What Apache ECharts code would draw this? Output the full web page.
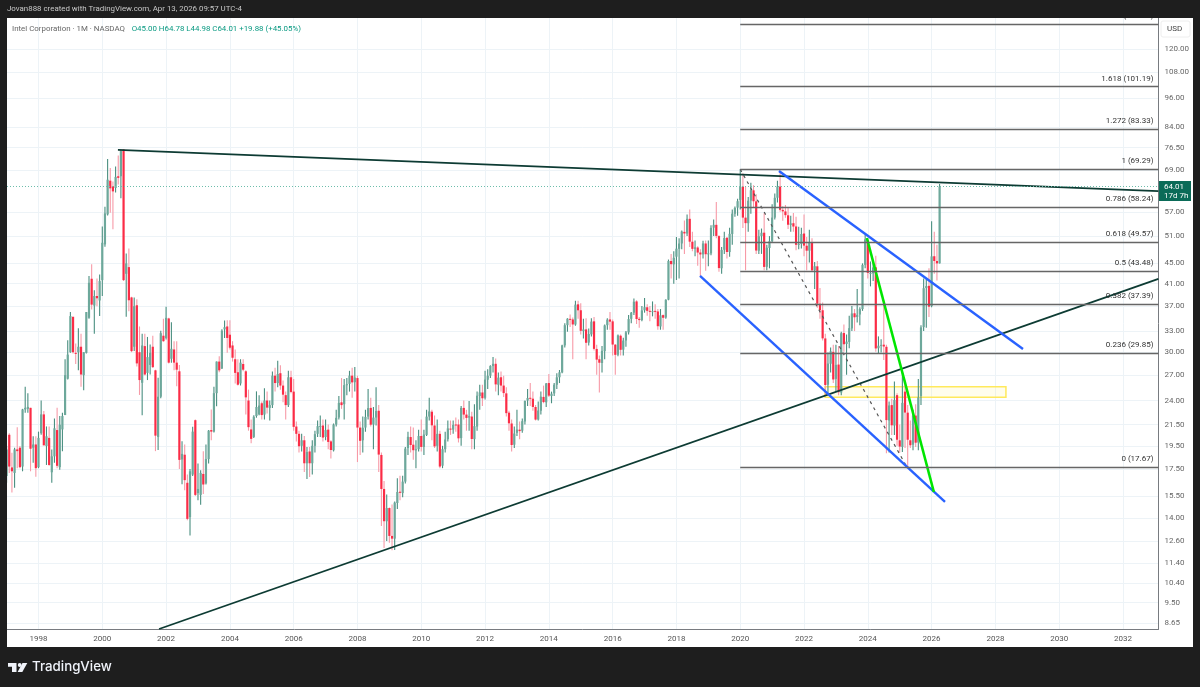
<!DOCTYPE html>
<html>
<head>
<meta charset="utf-8">
<style>html,body{margin:0;padding:0;background:#1e1e1e}#main{width:1200px;height:687px}</style>
<script src="https://cdn.jsdelivr.net/npm/echarts@6/dist/echarts.min.js"></script>
</head>
<body>
<div id="main"></div>
<script>
// monthly bars, each row is open, close, low, high. first row is Jan 1997
let candles1997=[[16.97,19.18,16.46,19.48],[20.51,17.73,17.22,20.66],[17.66,17.35,15.75,18.88],[17.22,19.18,16.08,19.33],[19.18,19.03,17.6,21.24],[19.33,17.68,17.6,19.48],[17.73,23.04,17.35,23.1],[23.04,23.21,22.7,25.55],[23.1,23.31,22.7,24.82],[23.21,19.24,17.35,23.21],[19.33,19.62,18.05,20.37],[19.62,17.6,16.92,20.37]]
let candles1998=[[17.68,20.22,17.6,20.81],[20.66,22.52,20.51,24.0],[22.52,19.54,19.54,22.88],[19.48,20.37,17.86,21.31],[20.22,17.86,17.79,21.31],[17.27,18.58,16.46,19.18],[18.58,21.13,18.05,22.11],[20.96,17.79,17.6,23.21],[17.68,21.48,17.48,22.35],[21.02,22.35,19.03,22.7],[22.45,26.96,22.45,29.0],[26.52,29.62,26.44,31.65]]
let candles1999=[[29.95,35.34,29.86,36.0],[35.23,29.95,29.77,35.23],[29.86,29.72,28.37,31.18],[29.95,30.71,27.56,33.42],[30.71,27.04,25.55,32.59],[26.96,29.95,25.15,29.95],[29.86,36.0,29.77,36.0],[35.06,41.17,34.9,42.45],[41.94,37.25,36.43,44.8],[37.09,38.75,32.59,39.77],[38.75,38.35,36.98,42.0],[37.96,41.49,35.34,42.77]]
let candles2000=[[41.68,49.46,38.75,53.3],[49.09,56.59,48.57,58.32],[56.33,66.04,56.07,72.59],[65.75,63.48,56.76,69.67],[64.1,62.6,52.6,65.5],[63.58,66.9,62.3,70.17],[67.1,66.6,64.6,73.76],[67.1,75.29,60.65,75.88],[75.88,41.68,41.49,75.88],[42.9,45,35.23,47.1],[44.24,38,36.15,48.2],[38.5,30.1,29.95,38.62]]
let candles2001=[[30.71,36.98,30.1,38.5],[37.14,28.45,28.05,38.18],[29.95,26.36,24.62,33.7],[26.03,30.89,22.42,32.59],[30.8,27.04,26.92,32.59],[27.24,29.29,26.36,32.12],[28.25,29.86,27.04,31.03],[30.71,27.97,27.85,32.31],[27.56,20.43,19.03,27.64],[20.31,24.42,19.12,26.64],[24.42,32.68,24.25,33.06],[32.3,31.5,31.41,34.9]]
let candles2002=[[31.97,35.06,31.74,36.87],[34.96,28.55,28.45,35.06],[29.06,30.42,28.55,34.35],[30.33,28.55,27.56,31.5],[28.55,27.64,25.63,31.5],[27.44,18.28,17.53,28.25],[18.32,18.79,16.34,19.92],[18.72,16.66,15.9,19.62],[16.46,13.95,13.86,17.09],[14.06,17.35,12.92,17.53],[17.09,20.81,16.97,21.27],[21.93,15.57,15.49,22.0]]
let candles2003=[[15.7,16.0,15.2,17.99],[15.57,17.22,14.89,17.43],[17.14,16.33,15.64,19.03],[16.41,18.35,16.33,19.62],[18.35,20.9,17.99,20.96],[20.96,20.81,20.0,23.04],[20.81,24.82,20.72,25.55],[24.82,28.69,23.38,28.69],[28.69,27.56,27.32,29.39],[27.8,33.06,27.72,33.26],[33.26,33.59,31.97,34.62],[33.7,31.97,29.86,34.68]]
let candles2004=[[32.45,30.57,30.33,34.68],[30.89,29.2,28.69,31.5],[29.0,27.24,25.95,30.33],[27.32,25.8,25.7,29.0],[25.95,28.55,25.71,29.0],[28.37,27.64,27.44,29.0],[27.44,24.35,22.52,27.56],[24.0,21.24,20.9,25.23],[21.02,20.13,19.72,22.0],[20.31,22.28,20.22,22.42],[22.35,23.3,22.18,25.03],[22.52,23.45,22.42,24.6]]
let candles2005=[[23.7,22.45,22.0,23.9],[22.5,24.0,22.0,25.4],[24.0,23.23,22.6,25.0],[23.2,23.5,21.9,24.0],[23.5,26.9,23.2,27.4],[26.9,26.0,25.0,27.9],[26.0,27.1,25.5,28.8],[27.2,25.7,25.2,28.2],[25.7,24.65,23.8,26.3],[24.6,23.5,22.0,25.0],[23.5,26.7,23.3,27.5],[26.7,24.96,24.8,27.5]]
let candles2006=[[25.0,21.27,20.9,26.5],[21.3,20.6,19.9,21.8],[20.6,19.46,18.9,20.9],[19.5,20.0,19.0,20.6],[20.0,18.0,17.3,20.4],[18.0,18.95,16.75,19.4],[19.0,18.0,16.9,19.4],[18.0,19.5,17.1,20.0],[19.5,20.57,18.9,20.9],[20.6,21.34,20.3,21.9],[21.3,21.35,20.3,22.4],[21.4,20.25,19.9,22.0]]
let candles2007=[[20.3,20.96,20.0,22.0],[21.0,19.85,19.2,21.5],[19.9,19.13,18.4,20.0],[19.1,21.5,19.0,21.6],[21.5,22.17,21.3,23.0],[22.2,23.74,22.0,24.5],[23.8,23.5,23.1,26.6],[23.6,25.75,22.0,26.5],[25.8,25.86,24.6,26.6],[25.9,26.9,25.0,27.5],[26.9,26.08,24.3,27.9],[26.1,26.66,25.0,28.0]]
let candles2008=[[26.6,21.2,18.1,26.9],[21.2,19.95,18.7,21.8],[20.0,21.18,18.9,22.3],[21.2,22.26,20.8,23.0],[22.3,23.18,22.0,25.3],[23.2,21.48,21.3,24.3],[21.5,22.19,19.2,23.3],[22.2,22.87,21.4,25.5],[22.9,18.73,17.3,23.5],[18.7,16.0,13.5,18.9],[16.0,13.8,12.2,16.6],[13.8,14.66,12.6,15.6]]
let candles2009=[[14.66,12.9,12.5,14.7],[12.9,12.74,12.08,14.9],[12.74,15.03,12.1,15.1],[15.0,15.78,14.6,16.8],[15.8,15.72,15.2,17.0],[15.7,16.55,15.4,17.0],[16.55,19.25,16.4,19.4],[19.3,20.32,18.7,20.8],[20.3,19.57,18.9,21.3],[19.6,19.11,18.3,21.2],[19.1,19.19,17.6,20.0],[19.2,20.4,19.0,21.0]]
let candles2010=[[20.4,19.4,19.0,22.0],[19.4,20.53,18.7,21.0],[20.5,22.29,20.4,23.0],[22.3,22.83,21.9,24.3],[22.8,21.42,20.0,23.0],[21.4,19.45,19.3,22.4],[19.5,20.6,19.0,22.0],[20.6,17.73,17.6,20.9],[17.8,19.2,17.6,19.5],[19.2,20.07,18.9,20.8],[20.1,21.12,19.9,21.9],[21.1,21.03,20.5,21.9]]
let candles2011=[[21.0,21.46,20.6,21.9],[21.5,21.47,20.8,22.2],[21.5,20.18,19.8,22.0],[20.2,23.2,19.5,23.4],[23.2,22.5,22.0,24.0],[22.5,22.16,20.9,23.0],[22.2,22.33,20.9,23.96],[22.3,20.12,19.2,22.8],[20.1,21.34,19.2,23.6],[21.3,24.54,20.9,25.0],[24.5,24.91,23.0,25.8],[24.9,24.25,23.4,25.8]]
let candles2012=[[24.3,26.42,24.1,27.5],[26.4,26.88,25.3,27.7],[26.9,28.12,26.6,28.2],[28.1,28.4,27.3,29.3],[28.4,25.84,25.0,29.1],[25.8,26.65,24.6,27.3],[26.7,25.7,25.0,27.4],[25.7,24.83,24.4,26.9],[24.8,22.65,22.3,25.5],[22.7,21.62,20.9,22.9],[21.6,19.57,19.0,22.0],[19.6,20.63,19.3,21.3]]
let candles2013=[[20.7,21.01,20.4,23.0],[21.0,20.86,20.1,21.8],[20.9,21.83,20.7,22.1],[21.8,23.95,21.5,24.0],[24.0,24.28,23.4,25.3],[24.3,24.23,23.4,26.0],[24.2,23.3,22.9,25.0],[23.3,21.99,21.9,23.5],[22.0,22.92,21.9,23.9],[22.9,24.43,22.5,25.0],[24.4,23.83,23.7,25.7],[23.8,25.95,23.3,26.0]]
let candles2014=[[26.0,24.54,24.4,27.1],[24.5,24.76,23.7,25.0],[24.8,25.81,24.5,26.0],[25.8,26.69,25.3,27.2],[26.7,27.32,26.0,27.6],[27.3,30.9,27.2,31.0],[30.9,33.89,30.6,34.2],[33.9,34.92,32.9,35.0],[34.9,34.82,33.6,35.6],[34.8,34.01,29.0,35.1],[34.0,37.25,33.8,37.9],[37.3,36.29,34.9,37.9]]
let candles2015=[[36.3,33.04,32.5,37.5],[33.0,33.25,31.9,34.9],[33.25,31.27,29.0,35.0],[31.3,32.55,30.9,33.4],[32.5,34.46,32.2,35.0],[34.5,30.41,30.2,35.2],[30.4,28.95,27.0,31.0],[29.0,28.54,24.9,29.5],[28.5,30.14,27.3,30.8],[30.1,33.86,29.0,34.0],[33.9,34.77,33.2,35.0],[34.8,34.45,33.2,36.0]]
let candles2016=[[34.5,31.02,29.5,34.8],[31.0,29.59,27.0,31.1],[29.6,32.35,29.4,32.5],[32.3,30.28,29.5,32.5],[30.3,31.59,29.5,32.0],[31.6,32.8,30.7,33.0],[32.8,34.86,32.5,35.5],[34.9,35.89,34.2,36.0],[35.9,37.75,35.5,38.3],[37.8,34.87,34.1,38.0],[34.9,34.7,33.5,35.2],[34.7,36.27,34.5,37.0]]
let candles2017=[[36.3,36.82,35.9,38.4],[36.8,36.2,35.4,37.3],[36.2,36.07,34.5,37.0],[36.1,36.15,35.3,37.8],[36.2,36.11,34.9,37.3],[36.1,33.74,33.2,36.5],[33.7,35.47,33.2,36.5],[35.5,35.07,33.2,35.6],[35.1,38.08,34.9,38.2],[38.1,45.49,38.0,45.8],[45.5,44.84,42.0,47.0],[44.8,46.16,41.0,47.6]]
let candles2018=[[46.4,48.14,41.7,50.8],[48.1,49.29,42.0,50.5],[49.3,52.08,48.0,52.3],[52.0,51.62,47.0,54.8],[51.6,55.2,51.0,56.3],[55.2,49.71,48.5,57.6],[49.7,48.1,47.6,52.0],[48.1,48.43,46.5,50.0],[48.4,47.29,44.5,48.7],[47.3,46.88,42.4,48.0],[46.9,49.31,46.0,49.9],[49.3,46.93,43.5,50.0]]
let candles2019=[[47.1,47.12,44.4,50.0],[47.1,52.95,46.7,53.6],[53.0,53.7,51.0,55.0],[53.7,51.04,50.5,59.6],[51.0,44.04,43.3,51.2],[44.0,47.87,42.9,48.5],[47.9,50.55,47.0,52.0],[50.6,47.41,46.0,50.8],[47.4,51.53,46.4,53.0],[51.5,56.53,49.0,57.6],[56.5,58.05,55.7,58.4],[58.1,59.85,56.0,60.5]]
let candles2020=[[60.2,63.93,57.6,69.29],[64.0,55.51,52.9,68.0],[55.5,54.12,43.63,64.0],[54.1,59.98,52.0,61.0],[60.0,62.92,56.5,65.1],[62.9,59.83,58.0,64.4],[59.8,47.73,47.0,61.8],[47.7,50.95,47.0,52.5],[51.0,51.78,47.0,52.8],[51.8,44.28,43.6,56.6],[44.3,48.35,43.6,49.0],[48.3,49.82,44.0,51.0]]
let candles2021=[[49.8,55.51,49.4,59.0],[55.5,60.78,55.0,62.0],[60.8,64.0,59.5,65.7],[64.0,57.53,57.0,68.49],[57.5,57.12,54.7,58.5],[57.1,56.14,55.5,58.8],[56.1,53.72,52.7,58.0],[53.7,54.06,52.0,56.0],[54.1,53.28,52.0,56.7],[53.3,49.0,47.8,55.7],[49.0,49.2,48.0,53.2],[49.2,51.5,48.2,53.0]]
let candles2022=[[51.6,48.82,46.5,56.3],[48.8,47.7,43.6,50.8],[47.7,49.56,45.2,52.5],[49.6,43.59,43.3,50.5],[43.6,44.42,40.0,45.3],[44.4,37.41,36.7,45.5],[37.4,36.31,34.9,40.2],[36.3,31.91,31.6,37.6],[31.9,25.77,24.6,32.6],[25.8,28.43,24.6,29.9],[28.4,30.07,27.3,30.6],[30.0,26.43,26.0,31.0]]
let candles2023=[[26.5,28.26,25.0,31.0],[28.3,24.93,24.6,30.8],[24.9,32.67,24.6,32.9],[32.7,31.06,30.0,34.0],[31.1,31.44,27.0,32.5],[31.4,33.44,30.5,35.4],[33.4,35.77,33.0,37.0],[35.8,35.15,33.0,36.5],[35.2,35.55,34.3,40.0],[35.6,36.5,33.9,36.8],[36.5,44.7,36.2,45.0],[44.7,50.25,44.0,51.28]]
let candles2024=[[50.0,43.08,42.0,50.5],[43.0,43.05,40.5,45.4],[43.0,44.17,41.5,45.4],[44.2,30.47,30.0,46.6],[30.5,30.85,29.7,32.2],[30.9,30.97,29.9,31.8],[31.0,30.74,28.9,37.2],[30.7,21.94,18.84,31.0],[21.9,23.46,18.9,23.9],[23.5,21.42,20.5,24.2],[21.4,24.05,20.5,26.2],[24.6,20.05,19.5,24.8]]
let candles2025=[[20.0,19.43,18.9,21.5],[19.4,23.74,18.95,27.55],[25.0,22.71,19.3,26.4],[22.7,20.05,17.67,23.5],[20.0,19.55,19.3,21.9],[19.6,22.4,19.1,23.0],[22.4,19.78,19.4,23.6],[19.8,24.35,19.1,26.5],[24.5,33.55,23.5,33.9],[33.6,40.16,33.0,42.0],[40.2,40.56,33.5,42.0],[40.6,36.9,35.2,44.0]]
let candles2026=[[37.0,46.47,36.8,54.6],[46.5,45.5,42.9,52.0],[45.5,45.0,41.6,49.0],[45.0,64.01,44.98,64.78]]

// axis labels
let priceTicks=[120,108,96,84,76.5,69,57,51,45,41,37,33,30,27,24,21.5,19.5,17.5,15.5,14,12.6,11.4,10.4,9.5,8.65]
let yearTicks=[1998,2000,2002,2004,2006,2008,2010,2012,2014,2016,2018,2020,2022,2024,2026,2028,2030,2032]

// fib retracement
let fibLevels=['0','0.236','0.382','0.5','0.618','0.786','1','1.272','1.618','2.272']
let fibPrices=[17.67,29.85,37.39,43.48,49.57,58.24,69.29,83.33,101.19,134.95]

// drawings, [year, price]
let resistanceLine=[[2000.49,75.7],[2033.11,62.7]]
let supportLine=[[2001.78,8.42],[2033.11,41.9]]
let channelTop=[[2021.215,68.75],[2028.865,30.4]]
let channelBottom=[[2018.74,42.48],[2026.42,15.08]]
let greenLine=[[2023.97,50.56],[2026.07,15.78]]
let fibDiagonal=[[2020,69.29],[2025.23,17.67]]
let yellowBox=[[2022.66,25.57],[2028.33,24.36]]
let lastPrice=64.01
let xMin=1997.0125
let xMax=2033.113

let allCandles=[].concat(candles1997,candles1998,candles1999,candles2000,candles2001,candles2002,candles2003,candles2004,candles2005,candles2006,candles2007,candles2008,candles2009,candles2010,candles2011,candles2012,candles2013,candles2014,candles2015,candles2016,candles2017,candles2018,candles2019,candles2020,candles2021,candles2022,candles2023,candles2024,candles2025,candles2026)
let rows=allCandles.map((c,i)=>[1997+i/12,c[0],c[1],c[2],c[3]])

function renderCandle(params,api){
  let x=api.value(0),o=api.value(1),c=api.value(2),l=api.value(3),h=api.value(4)
  let up=c>=o
  let bodyTop=api.coord([x,Math.max(o,c)])
  let bodyBottom=api.coord([x,Math.min(o,c)])
  let low=api.coord([x,l])
  let high=api.coord([x,h])
  return {
    type:'group',
    children:[
      {
        type:'line',
        shape:{x1:high[0],y1:high[1],x2:low[0],y2:low[1]},
        style:{stroke:up?'#4a8f80':'#f79aa7',lineWidth:1.1}
      },
      {
        type:'rect',
        shape:{x:bodyTop[0]-1.1,y:bodyTop[1],width:2.2,height:Math.max(bodyBottom[1]-bodyTop[1],1)},
        style:{fill:up?'#6da89b':'#fb2c46'}
      }
    ]
  }
}

function drawing(name,points,color,width,type){
  return {
    name:name,
    type:'line',
    data:points,
    symbol:'none',
    silent:true,
    z:4,
    lineStyle:{color:color,width:width,type:type||'solid'}
  }
}

let fibLines=fibPrices.map((p,i)=>[
  {coord:[fibDiagonal[0][0],p],name:fibLevels[i]+' ('+p.toFixed(2)+')'},
  {coord:[xMax,p]}
])

let myChart=echarts.init(document.getElementById('main'))
let options={
  animation:false,
  backgroundColor:'#ffffff',
  grid:{left:7,right:41.5,top:18,bottom:58},
  xAxis:{
    type:'value',
    min:xMin,
    max:xMax,
    axisLine:{onZero:false,lineStyle:{color:'#787b80',width:1}},
    axisTick:{show:false,customValues:yearTicks},
    axisLabel:{
      customValues:yearTicks,
      color:'#555',
      fontFamily:'Roboto',
      fontSize:8,
      margin:6,
      formatter:v=>String(v)
    },
    splitLine:{show:true,lineStyle:{color:'#edf3f7',width:1}}
  },
  yAxis:{
    type:'log',
    position:'right',
    min:8.42,
    max:138.6,
    axisLine:{show:true,lineStyle:{color:'#787b80',width:1}},
    axisTick:{show:false,customValues:priceTicks},
    axisLabel:{
      customValues:priceTicks,
      color:'#666',
      fontFamily:'Roboto',
      fontSize:8,
      margin:6,
      hideOverlap:false,
      formatter:v=>Number(v).toFixed(2)
    },
    splitLine:{show:true,lineStyle:{color:'#edf3f7',width:1}},
    minorSplitLine:{show:false}
  },
  series:[
    {
      name:'box',
      type:'line',
      data:[],
      z:1,
      markArea:{
        silent:true,
        itemStyle:{color:'rgba(255,240,120,0.14)',borderColor:'#ffe95c',borderWidth:1.5},
        data:[[{coord:yellowBox[0]},{coord:yellowBox[1]}]]
      }
    },
    {
      name:'INTC',
      type:'custom',
      data:rows,
      encode:{x:0,y:[1,2,3,4]},
      renderItem:renderCandle,
      clip:true,
      z:2
    },
    {
      name:'last',
      type:'line',
      data:[],
      z:3,
      markLine:{
        silent:true,
        symbol:'none',
        label:{show:false},
        lineStyle:{color:'#6dbdab',type:[1,2],width:1},
        data:[{yAxis:lastPrice}]
      }
    },
    {
      name:'fib',
      type:'line',
      data:[],
      z:3,
      markLine:{
        silent:true,
        symbol:'none',
        lineStyle:{color:'#666666',type:'solid',width:1.4},
        label:{
          position:'insideEndTop',
          color:'#333',
          fontFamily:'Roboto',
          fontSize:8,
          distance:[5,4],
          formatter:p=>p.name
        },
        data:fibLines
      }
    },
    drawing('fib diagonal',fibDiagonal,'#555',1.2,[3,4]),
    drawing('resistance',resistanceLine,'#0d3b33',1.8),
    drawing('support',supportLine,'#0d3b33',1.8),
    drawing('channel top',channelTop,'#2962ff',2.4),
    drawing('channel bottom',channelBottom,'#2962ff',2.4),
    drawing('green',greenLine,'#00e600',2.6)
  ],
  graphic:[
    // dark frame round the chart
    {type:'rect',z:100,silent:true,shape:{x:0,y:0,width:1200,height:18},style:{fill:'#1e1e1e'}},
    {type:'rect',z:100,silent:true,shape:{x:0,y:647,width:1200,height:40},style:{fill:'#1e1e1e'}},
    {type:'rect',z:100,silent:true,shape:{x:0,y:0,width:7,height:687},style:{fill:'#1e1e1e'}},
    {type:'rect',z:100,silent:true,shape:{x:1193,y:0,width:7,height:687},style:{fill:'#1e1e1e'}},
    {type:'text',z:101,silent:true,style:{x:7,y:5,text:'Jovan888 created with TradingView.com, Apr 13, 2026 09:57 UTC-4',fill:'#c8c8c8',font:'7.9px Roboto'}},
    {
      type:'text',z:101,silent:true,
      style:{
        x:12,y:23,
        text:'{a|Intel Corporation · 1M · NASDAQ}  {b|O45.00 H64.78 L44.98 C64.01 +19.88 (+45.05%)}',
        rich:{
          a:{fill:'#666',font:'7.9px Roboto'},
          b:{fill:'#089981',font:'7.9px Roboto'}
        }
      }
    },
    // USD box and price tag
    {type:'rect',z:101,silent:true,shape:{x:1161,y:21,width:29,height:16,r:2},style:{fill:'#fff',stroke:'#eeeeee'}},
    {type:'text',z:102,silent:true,style:{x:1167,y:25,text:'USD',fill:'#444',font:'8px Roboto'}},
    {type:'rect',z:101,silent:true,shape:{x:1159,y:181,width:32,height:20},style:{fill:'#0b6b58'}},
    {type:'text',z:102,silent:true,style:{x:1164,y:183,text:'64.01',fill:'#fff',font:'8px Roboto'}},
    {type:'text',z:102,silent:true,style:{x:1164,y:192,text:'17d 7h',fill:'#fff',font:'8px Roboto'}},
    // logo
    {type:'polygon',z:101,silent:true,shape:{points:[[8,663],[16.5,663],[16.5,672],[12,672],[12,666.8],[8,666.8]]},style:{fill:'#f0f3fa'}},
    {type:'circle',z:101,silent:true,shape:{cx:19.7,cy:665,r:1.9},style:{fill:'#f0f3fa'}},
    {type:'polygon',z:101,silent:true,shape:{points:[[22.5,663],[27.3,663],[22.3,672],[17.6,672]]},style:{fill:'#f0f3fa'}},
    {type:'text',z:101,silent:true,style:{x:32,y:660,text:'TradingView',fill:'#f0f3fa',font:'500 13.3px Inter'}}
  ]
}
myChart.setOption(options)
</script>
</body>
</html>
